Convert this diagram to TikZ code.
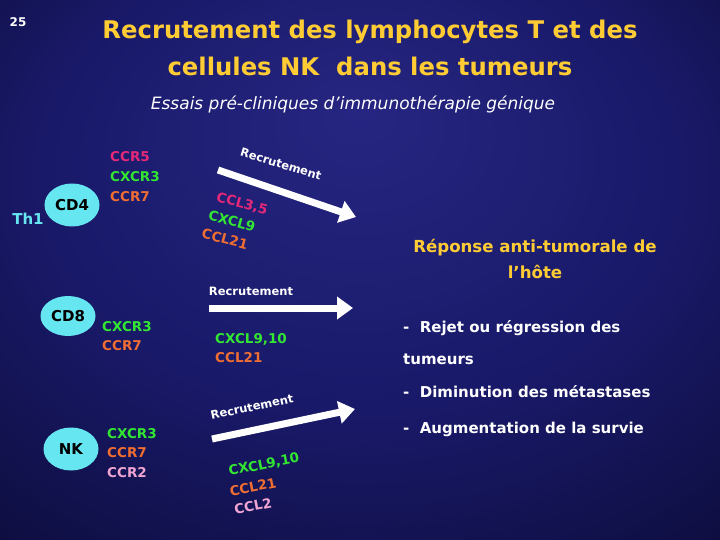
\documentclass[tikz,border=0pt]{standalone}
\usepackage{fontspec}
\setmainfont{DejaVu Sans}
\usetikzlibrary{arrows.meta,shapes.geometric}
\definecolor{ttl}{RGB}{255,204,51}
\definecolor{cyn}{RGB}{102,230,240}
\definecolor{mag}{RGB}{230,40,120}
\definecolor{grn}{RGB}{50,230,50}
\definecolor{org}{RGB}{240,110,50}
\definecolor{pnk}{RGB}{240,165,210}
\definecolor{bgA}{RGB}{38,38,130}
\definecolor{bgB}{RGB}{25,25,105}
\definecolor{bgC}{RGB}{10,10,50}
\pgfdeclareradialshading{bgshade}{\pgfpoint{0bp}{15bp}}{color(0bp)=(bgA); color(22bp)=(bgB); color(45bp)=(bgC); color(55bp)=(black)}
\begin{document}
\begin{tikzpicture}[x=1pt,y=-1pt,
  cell/.style={ellipse,fill=cyn,inner sep=0pt,minimum width=55pt,minimum height=43pt,font=\bfseries\fontsize{15}{15}\selectfont,text=black},
  chem/.style={font=\bfseries\fontsize{13.5}{13.5}\selectfont,anchor=west,inner sep=0pt},
  chemr/.style={font=\bfseries\fontsize{13.5}{13.5}\selectfont,inner sep=0pt},
  arr/.style={draw=white,line width=7pt,-{Triangle[length=16pt,width=22pt]}},
  rec/.style={text=white,font=\bfseries\fontsize{11.5}{11.5}\selectfont,inner sep=0pt},
  bul/.style={text=white,font=\bfseries\fontsize{15}{15}\selectfont,anchor=west,inner sep=0pt},
  ttlt/.style={text=ttl,font=\bfseries\fontsize{24.3}{24.3}\selectfont,inner sep=0pt},
  resp/.style={text=ttl,font=\bfseries\fontsize{16.6}{16.6}\selectfont,inner sep=0pt}]
\useasboundingbox (0,0) rectangle (720,540);
\shade[shading=bgshade] (0,0) rectangle (720,540);
% header
\node[text=white,font=\bfseries\fontsize{12}{12}\selectfont,inner sep=0pt] (num) at (18,22) {25};
\node[ttlt] (t1) at (370,32) {Recrutement des lymphocytes T et des};
\node[ttlt] (t2) at (370,66) {cellules NK\ \ dans les tumeurs};
\node[text=white,font=\itshape\fontsize{17}{17}\selectfont,inner sep=0pt] (sub) at (353,104) {Essais pré-cliniques d’immunothérapie génique};
% CD4
\node[cell] (cd4) at (72,205) {CD4};
\node[text=cyn,font=\bfseries\fontsize{15}{15}\selectfont,inner sep=0pt] (th1) at (28,219) {Th1};
\node[chem,text=mag] (r1a) at (110,157) {CCR5};
\node[chem,text=grn] (r1b) at (110,177) {CXCR3};
\node[chem,text=org] (r1c) at (110,197) {CCR7};
\coordinate (a1s) at (218,170);
\coordinate (a1e) at (356,217);
\draw[arr] (a1s) -- (a1e);
\node[rec,rotate=-17] (l1) at (281,164) {Recrutement};
\node[chemr,text=mag,rotate=-15] (c1a) at (242,204) {CCL3,5};
\node[chemr,text=grn,rotate=-15] (c1b) at (232,221) {CXCL9};
\node[chemr,text=org,rotate=-15] (c1c) at (225,239) {CCL21};
% CD8
\node[cell,minimum height=40pt] (cd8) at (68,316) {CD8};
\node[chem,text=grn] (r2a) at (102,327) {CXCR3};
\node[chem,text=org] (r2b) at (102,346) {CCR7};
\coordinate (a2s) at (209,308);
\coordinate (a2e) at (353,308);
\draw[arr] (a2s) -- (a2e);
\node[rec] (l2) at (251,291) {Recrutement};
\node[chem,text=grn] (c2a) at (215,339) {CXCL9,10};
\node[chem,text=org] (c2b) at (215,358) {CCL21};
% NK
\node[cell] (nk) at (71,449) {NK};
\node[chem,text=grn] (r3a) at (107,434) {CXCR3};
\node[chem,text=org] (r3b) at (107,453) {CCR7};
\node[chem,text=pnk] (r3c) at (107,473) {CCR2};
\coordinate (a3s) at (212,439);
\coordinate (a3e) at (355,409);
\draw[arr] (a3s) -- (a3e);
\node[rec,rotate=12] (l3) at (252,407) {Recrutement};
\node[chemr,text=grn,rotate=11] (c3a) at (264,465) {CXCL9,10};
\node[chemr,text=org,rotate=11] (c3b) at (253,487) {CCL21};
\node[chemr,text=pnk,rotate=11] (c3c) at (253,506) {CCL2};
% right side
\node[resp] (rp1) at (535,248) {Réponse anti-tumorale de};
\node[resp] (rp2) at (535,272) {l’hôte};
\node[bul] (b1) at (403,328) {-\ \ Rejet ou régression des};
\node[bul] (b2) at (403,359) {tumeurs};
\node[bul] (b3) at (403,392) {-\ \ Diminution des métastases};
\node[bul] (b4) at (403,429) {-\ \ Augmentation de la survie};
\end{tikzpicture}
\end{document}
